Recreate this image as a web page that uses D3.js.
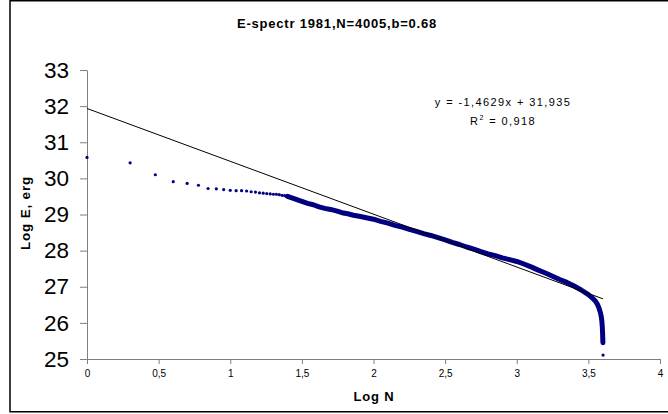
<!DOCTYPE html>
<html>
<head>
<meta charset="utf-8">
<script src="https://cdn.jsdelivr.net/npm/d3@7"></script>
<style>
  body { margin: 0; background: #fff; }
  svg { display: block; font-family: "Liberation Sans", Arial, sans-serif; }
  .axis path, .axis line { stroke: #7f7f7f; }
  .axis text { fill: #000; font-family: "Liberation Sans", Arial, sans-serif; }
</style>
</head>
<body>
<svg id="chart" width="668" height="414"></svg>
<script>
// ranked energy spectrum
let log_n = [
  0, 0.301, 0.477, 0.602, 0.699, 0.778, 0.845, 0.903, 0.954, 1.0,
  1.041, 1.079, 1.114, 1.146, 1.176, 1.204, 1.23, 1.255, 1.279, 1.301,
  1.322, 1.342, 1.362, 1.38, 1.40, 1.43, 1.46, 1.48, 1.51, 1.54,
  1.58, 1.62, 1.66, 1.70, 1.74, 1.78, 1.82, 1.86, 1.90, 1.95,
  2.00, 2.05, 2.10, 2.15, 2.20, 2.25, 2.30, 2.35, 2.40, 2.45,
  2.50, 2.55, 2.60, 2.65, 2.70, 2.75, 2.80, 2.85, 2.90, 2.95,
  3.00, 3.05, 3.10, 3.15, 3.20, 3.25, 3.30, 3.35, 3.40, 3.45,
  3.50, 3.53, 3.55, 3.565, 3.575, 3.585, 3.59, 3.594, 3.597, 3.599,
  3.600, 3.6015, 3.6026
];
let log_e = [
  30.58, 30.43, 30.10, 29.91, 29.86, 29.81, 29.72, 29.71, 29.69, 29.67,
  29.66, 29.66, 29.65, 29.63, 29.62, 29.60, 29.59, 29.58, 29.57, 29.56,
  29.56, 29.55, 29.53, 29.52, 29.50, 29.46, 29.42, 29.39, 29.35, 29.31,
  29.27, 29.21, 29.17, 29.14, 29.10, 29.05, 29.02, 28.98, 28.95, 28.91,
  28.87, 28.81, 28.76, 28.70, 28.65, 28.59, 28.53, 28.47, 28.42, 28.36,
  28.30, 28.23, 28.17, 28.10, 28.04, 27.97, 27.91, 27.86, 27.80, 27.75,
  27.70, 27.63, 27.55, 27.46, 27.38, 27.29, 27.20, 27.12, 27.02, 26.91,
  26.78, 26.68, 26.60, 26.50, 26.40, 26.27, 26.17, 26.05, 25.90, 25.75,
  25.62, 25.45, 25.11
];
let x_ticks = [0, 0.5, 1, 1.5, 2, 2.5, 3, 3.5, 4],
    y_ticks = [25, 26, 27, 28, 29, 30, 31, 32, 33];
let trend_slope = -1.4629,
    trend_intercept = 31.935,
    trend_range = [0, 3.6026];

let title = "E-spectr 1981,N=4005,b=0.68",
    eq_text = "y = -1,4629x + 31,935",
    r2_value = "0,918";

function make_scales() {
  return {
    x: d3.scaleLinear().domain([0, 4]).range([87, 660]),
    y: d3.scaleLinear().domain([25, 33]).range([359, 70])
  }
}

function comma(d) {
  return String(d).replace(".", ",");
}

function draw_frame(svg) {
  svg.append("rect")
    .attrs({x: 10, y: 0.75, width: 700, height: 411, fill: "none", stroke: "#000", "stroke-width": 1.5})
}

function draw_axes(svg, scales) {
  svg.append("g")
    .attr("class", "axis")
    .attr("transform", "translate(87,0)")
    .call(d3.axisLeft(scales.y).tickValues(y_ticks).tickSize(7).tickSizeOuter(0).tickPadding(11))
    .selectAll("text")
    .attr("font-size", 22.5)

  svg.append("g")
    .attr("class", "axis")
    .attr("transform", "translate(0,359)")
    .call(d3.axisBottom(scales.x).tickValues(x_ticks).tickFormat(comma).tickSize(5).tickSizeOuter(0).tickPadding(6))
    .selectAll("text")
    .attr("font-size", 10)

  d3.selectAll(".axis .domain").attr("stroke", "#7f7f7f")
}

function draw_labels(svg) {
  svg.append("text")
    .attrs({x: 337, y: 28, "text-anchor": "middle", "font-size": 13, "font-weight": "bold", "letter-spacing": 0.8})
    .text(title)

  svg.append("text")
    .attrs({x: 374, y: 401, "text-anchor": "middle", "font-size": 13, "font-weight": "bold", "letter-spacing": 0.8})
    .text("Log N")

  svg.append("text")
    .attrs({transform: "translate(30,213) rotate(-90)", "text-anchor": "middle", "font-size": 13.5, "font-weight": "bold", "letter-spacing": 0.8})
    .text("Log E, erg")

  svg.append("text")
    .attrs({x: 503, y: 106, "text-anchor": "middle", "font-size": 11, "letter-spacing": 1.4})
    .text(eq_text)

  let r2 = svg.append("text")
    .attrs({x: 503, y: 125, "text-anchor": "middle", "font-size": 11, "letter-spacing": 1.4})
  r2.append("tspan").text("R")
  r2.append("tspan").attrs({"font-size": 7, dy: -5}).text("2")
  r2.append("tspan").attr("dy", 5).text(" = " + r2_value)
}

function draw_series(svg, scales) {
  let points = log_n.map((d, i) => ({n: d, e: log_e[i]}))

  // the dense tail reads as a solid band of markers
  let band = d3.line()
    .x(d => scales.x(d.n))
    .y(d => scales.y(d.e))
  svg.append("path")
    .datum(points.filter(d => d.n >= 1.4 && d.e > 25.3))
    .attrs({d: band, fill: "none", stroke: "#000080", "stroke-width": 5, "stroke-linejoin": "round", "stroke-linecap": "round"})

  svg.append("g")
    .selectAll("circle")
    .data(points).enter()
    .append("circle")
    .attrs({cx: d => scales.x(d.n), cy: d => scales.y(d.e), r: 1.6, fill: "#000080"})
}

function draw_trend(svg, scales) {
  svg.append("line")
    .attrs({
      x1: scales.x(trend_range[0]),
      y1: scales.y(trend_intercept + trend_slope * trend_range[0]),
      x2: scales.x(trend_range[1]),
      y2: scales.y(trend_intercept + trend_slope * trend_range[1]),
      stroke: "#000", "stroke-width": 1
    })
}

// small helper since d3 v7 has no .attrs()
d3.selection.prototype.attrs = function(obj) {
  for (let k in obj) this.attr(k, obj[k]);
  return this;
}

let svg = d3.select("#chart"),
    scales = make_scales();
draw_frame(svg)
draw_axes(svg, scales)
draw_series(svg, scales)
draw_trend(svg, scales)
draw_labels(svg)
</script>
</body>
</html>
